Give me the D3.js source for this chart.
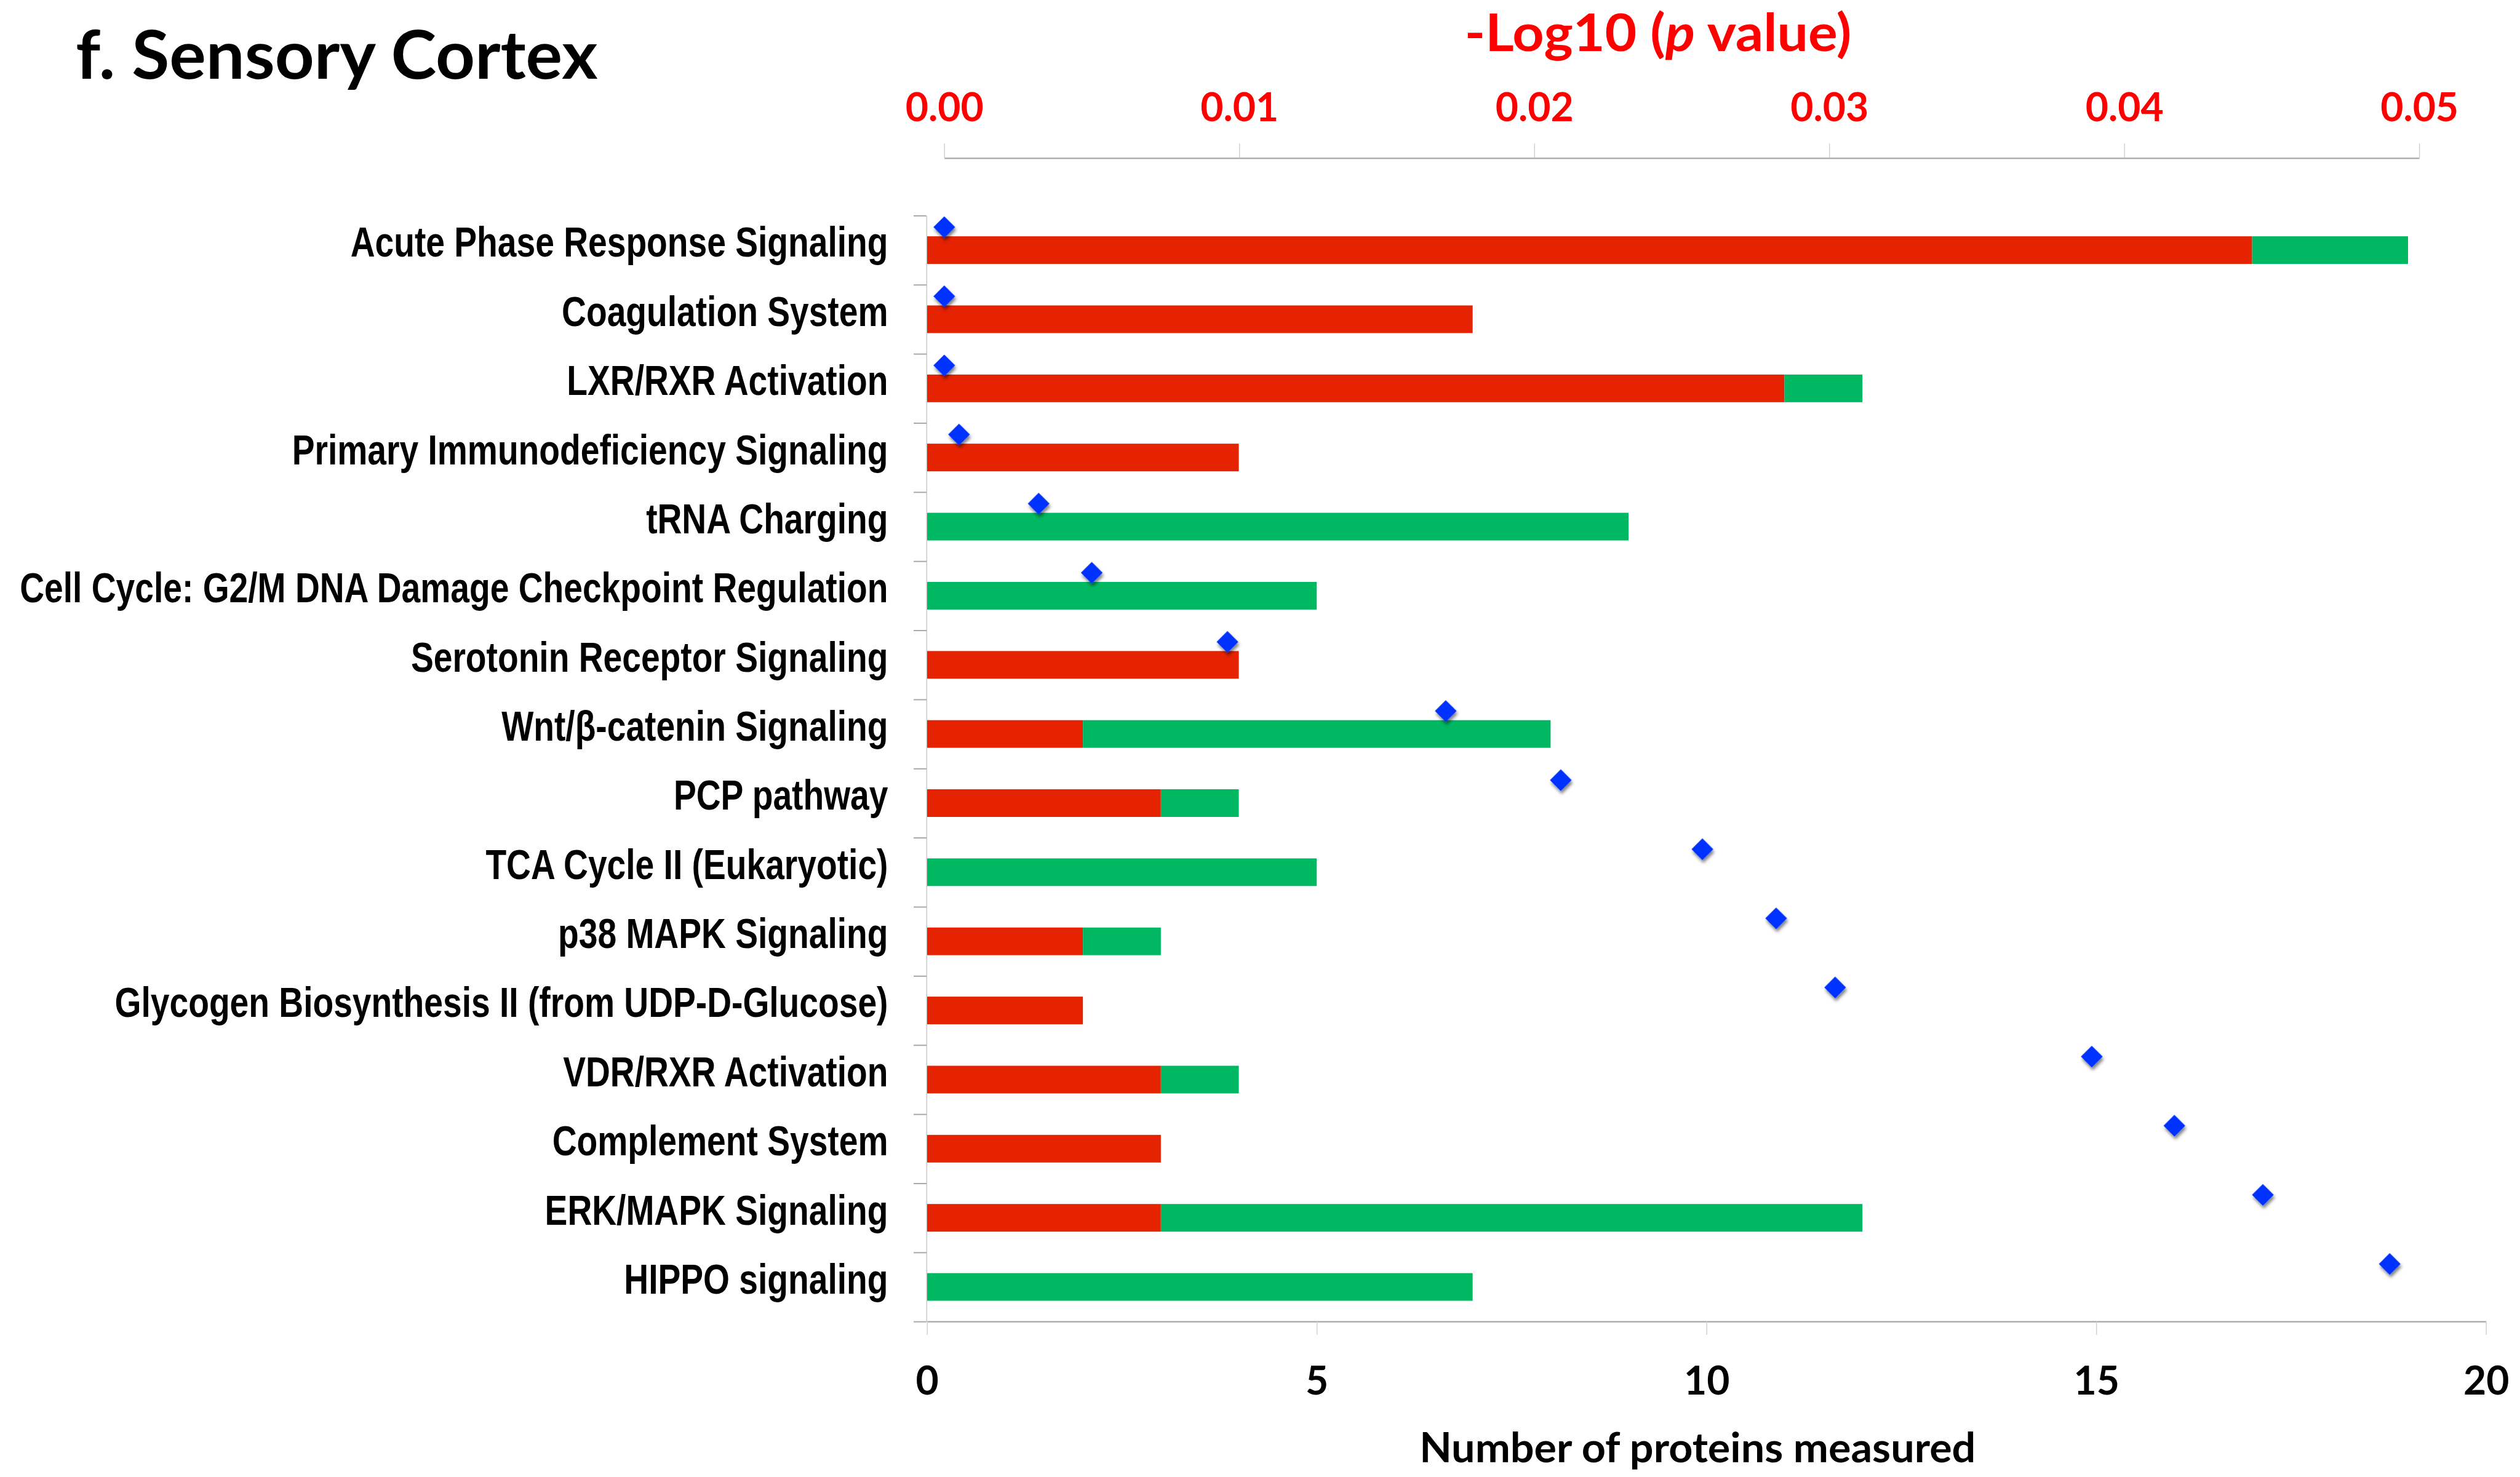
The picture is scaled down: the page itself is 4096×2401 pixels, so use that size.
<!DOCTYPE html>
<html>
<head>
<meta charset="utf-8">
<script src="https://cdn.jsdelivr.net/npm/d3@7"></script>
<style>
  html, body { margin: 0; padding: 0; background: #ffffff; }
  svg { display: block; }
</style>
</head>
<body>
<script>
// ---------- DATA ----------
const categories = [
  "Acute Phase Response Signaling",
  "Coagulation System",
  "LXR/RXR Activation",
  "Primary Immunodeficiency Signaling",
  "tRNA Charging",
  "Cell Cycle: G2/M DNA Damage Checkpoint Regulation",
  "Serotonin Receptor Signaling",
  "Wnt/β-catenin Signaling",
  "PCP pathway",
  "TCA Cycle II (Eukaryotic)",
  "p38 MAPK Signaling",
  "Glycogen Biosynthesis II (from UDP-D-Glucose)",
  "VDR/RXR Activation",
  "Complement System",
  "ERK/MAPK Signaling",
  "HIPPO signaling"
];
const redCounts   = [17, 7, 11, 4, 0, 0, 4, 2, 3, 0, 2, 2, 3, 3, 3, 0];
const greenCounts = [ 2, 0,  1, 0, 9, 5, 0, 6, 1, 5, 1, 0, 1, 0, 9, 7];
const pValues = [0.0000, 0.0000, 0.0000, 0.0005, 0.0032, 0.0050, 0.0096, 0.0170,
                 0.0209, 0.0257, 0.0282, 0.0302, 0.0389, 0.0417, 0.0447, 0.0490];
const bottomTicks = [0, 5, 10, 15, 20];
const topTicks = [0, 0.01, 0.02, 0.03, 0.04, 0.05];
const chartTitle = "f. Sensory Cortex";
const bottomTitle = "Number of proteins measured";

// ---------- LAYOUT (reference pixel space) ----------
const W = 4529, H = 2655;
const svg = d3.select("body").append("svg")
  .attr("width", 4096).attr("height", 2401)
  .attr("viewBox", `0 0 ${W} ${H}`);

const defs = svg.append("defs");
const f = defs.append("filter").attr("id", "shadow")
  .attr("x", "-50%").attr("y", "-50%").attr("width", "200%").attr("height", "200%");
f.append("feDropShadow").attr("dx", 2).attr("dy", 5).attr("stdDeviation", 3)
  .attr("flood-color", "#000").attr("flood-opacity", 0.5);

const plotTop = 387.5, plotBottom = 2375.5;
const x = d3.scaleLinear().domain([0, 20]).range([1666, 4468]);
const xp = d3.scaleLinear().domain([0, 0.05]).range([1697, 4348]);
const y = d3.scaleBand().domain(categories).range([plotTop, plotBottom]).padding(0);
const yIdx = d3.scaleLinear().domain([0, categories.length]).range([plotTop, plotBottom]);

const numFont = "Lato, 'Open Sans', sans-serif";
const labelFont = "'Liberation Sans Narrow', 'Arial Narrow', 'Liberation Sans', Arial, sans-serif";

// ---------- BARS ----------
const bw = y.bandwidth();
const barH = bw * 0.4;
const bars = svg.append("g");
bars.selectAll("rect.red").data(categories).join("rect").attr("class", "red")
  .attr("x", x(0))
  .attr("y", d => y(d) + (bw - barH) / 2)
  .attr("height", barH)
  .attr("width", (d, i) => x(redCounts[i]) - x(0))
  .attr("fill", "#E52300");
bars.selectAll("rect.green").data(categories).join("rect").attr("class", "green")
  .attr("x", (d, i) => x(redCounts[i]))
  .attr("y", d => y(d) + (bw - barH) / 2)
  .attr("height", barH)
  .attr("width", (d, i) => x(redCounts[i] + greenCounts[i]) - x(redCounts[i]))
  .attr("fill", "#00B862");

// ---------- LEFT (category) AXIS ----------
const leftAxis = svg.append("g").attr("transform", `translate(${x(0) - 1},0)`)
  .call(d3.axisLeft(yIdx).tickValues(d3.range(categories.length + 1))
    .tickSize(23).tickSizeOuter(0).tickFormat(""));
leftAxis.select(".domain").attr("stroke", "#c4c4c4").attr("stroke-width", 1.5);
leftAxis.selectAll(".tick line").attr("stroke", "#a8a8a8").attr("stroke-width", 2.2);

// labels
const labelG = svg.append("g");
const labels = labelG.selectAll("text").data(categories).join("text")
  .attr("x", 0)
  .attr("y", d => y(d) + bw / 2 + 12)
  .attr("text-anchor", "end")
  .attr("font-family", labelFont)
  .attr("font-weight", "bold")
  .attr("font-size", 75)
  .attr("fill", "#000")
  .text(d => d);
const wShort = labels.filter((d, i) => i === 0).node().getComputedTextLength();
const wLong = labels.filter((d, i) => i === 5).node().getComputedTextLength();
const kLab = (963 + 1564) / (wShort + wLong);
labelG.attr("transform", `translate(1596,0) scale(${kLab},1)`);

// ---------- BOTTOM AXIS ----------
const bottomAxis = svg.append("g").attr("transform", `translate(0,${plotBottom})`)
  .call(d3.axisBottom(x).tickValues(bottomTicks).tickSize(24).tickSizeOuter(0));
bottomAxis.select(".domain").attr("stroke", "#a6a6a6").attr("stroke-width", 2.5);
bottomAxis.selectAll(".tick line").attr("stroke", "#cfcfcf").attr("stroke-width", 1.6);
bottomAxis.selectAll(".tick text")
  .attr("y", 131).attr("dy", 0)
  .attr("font-family", numFont).attr("font-weight", "bold").attr("font-size", 71)
  .attr("fill", "#000");

// ---------- TOP AXIS ----------
const topAxis = svg.append("g").attr("transform", "translate(0,284)")
  .call(d3.axisTop(xp).tickValues(topTicks).tickSize(26).tickSizeOuter(0)
    .tickFormat(d3.format(".2f")));
topAxis.select(".domain").attr("stroke", "#a6a6a6").attr("stroke-width", 2.5);
topAxis.selectAll(".tick line").attr("stroke", "#cfcfcf").attr("stroke-width", 1.6);
topAxis.selectAll(".tick text")
  .attr("y", -66).attr("dy", 0)
  .attr("font-family", numFont).attr("font-weight", "bold").attr("font-size", 71)
  .attr("fill", "#FF0000");

// ---------- DIAMONDS ----------
svg.append("g").attr("filter", "url(#shadow)")
  .selectAll("path").data(categories).join("path")
  .attr("d", d3.symbol(d3.symbolSquare, 760))
  .attr("transform", (d, i) => `translate(${xp(pValues[i])},${y(d) + bw * 0.1675}) rotate(45)`)
  .attr("fill", "#0033FF");

// ---------- TITLES ----------
function fitted(xPos, yPos, anchor, size, color, target, builder) {
  const g = svg.append("g");
  const t = g.append("text").attr("x", 0).attr("y", 0)
    .attr("text-anchor", anchor)
    .attr("font-family", numFont).attr("font-weight", "bold")
    .attr("font-size", size).attr("fill", color);
  builder(t);
  const w = t.node().getComputedTextLength();
  g.attr("transform", `translate(${xPos},${yPos}) scale(${target / w},1)`);
  return g;
}

fitted(136, 142, "start", 120, "#000", 938, t => t.text(chartTitle));

fitted(2980, 92, "middle", 93, "#FF0000", 695, t => {
  t.append("tspan").text("-Log10 (");
  t.append("tspan").attr("font-style", "italic").text("p");
  t.append("tspan").text(" value)");
});

fitted(3051, 2629, "middle", 73, "#000", 1000, t => t.text(bottomTitle));
</script>
</body>
</html>
